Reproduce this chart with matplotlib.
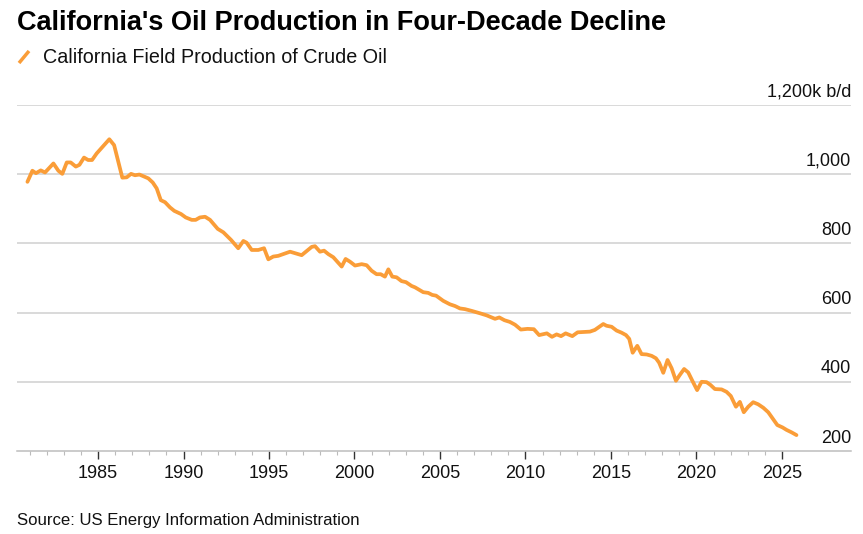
import matplotlib
matplotlib.use("Agg")
import matplotlib.pyplot as plt
from matplotlib.lines import Line2D
from matplotlib.ticker import FixedLocator, NullFormatter

plt.rcParams['font.family'] = ['Liberation Sans', 'DejaVu Sans']

title = "California's Oil Production in Four-Decade Decline"
series_name = "California Field Production of Crude Oil"
source = "Source: US Energy Information Administration"

years = [
    1980.87, 1981.16, 1981.37, 1981.65, 1981.90, 1982.39, 1982.68, 1982.91,
    1983.17, 1983.40, 1983.70, 1983.91, 1984.18, 1984.42, 1984.65, 1984.92,
    1985.66, 1985.94, 1986.42, 1986.68, 1986.93, 1987.16, 1987.42, 1987.65,
    1987.94, 1988.20, 1988.43, 1988.67, 1988.92, 1989.21, 1989.46, 1989.85,
    1990.13, 1990.48, 1990.71, 1990.96, 1991.26, 1991.55, 1992.00, 1992.33,
    1992.78, 1993.20, 1993.50, 1993.69, 1993.99, 1994.37, 1994.71, 1994.96,
    1995.25, 1995.54, 1996.23, 1996.91, 1997.50, 1997.69, 1997.98, 1998.22,
    1998.47, 1998.76, 1999.00, 1999.25, 1999.48, 1999.74, 2000.03, 2000.42,
    2000.71, 2001.00, 2001.29, 2001.53, 2001.78, 2001.98, 2002.21, 2002.46,
    2002.75, 2003.01, 2003.34, 2003.54, 2004.02, 2004.31, 2004.55, 2004.77,
    2005.19, 2005.58, 2005.88, 2006.17, 2006.46, 2006.85, 2007.34, 2007.73,
    2008.22, 2008.47, 2008.77, 2009.09, 2009.39, 2009.73, 2010.12, 2010.49,
    2010.80, 2011.25, 2011.55, 2011.82, 2012.08, 2012.35, 2012.74, 2013.05,
    2013.77, 2014.06, 2014.55, 2014.74, 2015.04, 2015.33, 2015.62, 2015.88,
    2016.07, 2016.27, 2016.54, 2016.79, 2017.09, 2017.38, 2017.63, 2017.82,
    2018.06, 2018.31, 2018.55, 2018.80, 2019.03, 2019.28, 2019.52, 2019.77,
    2020.04, 2020.30, 2020.59, 2020.82, 2021.08, 2021.47, 2021.76, 2022.01,
    2022.31, 2022.54, 2022.77, 2023.03, 2023.32, 2023.61, 2023.91, 2024.20,
    2024.49, 2024.73, 2025.04, 2025.27, 2025.56, 2025.85,
]
production = [
    978, 1010, 1003, 1011, 1005, 1031, 1010, 1001,
    1034, 1034, 1022, 1027, 1048, 1041, 1041, 1060,
    1101, 1084, 990, 991, 1001, 997, 999, 994,
    988, 976, 959, 925, 919, 904, 894, 885,
    875, 868, 868, 875, 877, 868, 842, 832,
    810, 786, 807, 802, 781, 781, 786, 754,
    762, 764, 776, 766, 790, 792, 776, 779,
    769, 760, 747, 733, 755, 747, 736, 740,
    737, 721, 711, 711, 704, 725, 704, 702,
    691, 688, 677, 673, 659, 657, 651, 649,
    634, 624, 619, 612, 610, 605, 598, 592,
    582, 586, 578, 573, 565, 551, 553, 552,
    535, 540, 530, 537, 532, 540, 532, 543,
    545, 550, 567, 562, 559, 548, 542, 535,
    524, 484, 504, 480, 479, 475, 468, 455,
    426, 463, 439, 403, 420, 437, 427, 402,
    376, 400, 399, 391, 379, 378, 371, 359,
    328, 342, 312, 328, 341, 335, 325, 312,
    292, 275, 268, 261, 254, 246,
]

y_ticks = [200, 400, 600, 800, 1000, 1200]
y_labels = ["200", "400", "600", "800", "1,000", "1,200k b/d"]
x_major = [1985, 1990, 1995, 2000, 2005, 2010, 2015, 2020, 2025]
x_minor = list(range(1981, 2025))

line_color = "#FA9D38"

fig = plt.figure(figsize=(8.63, 5.34), dpi=100)
ax = fig.add_axes([17/863, 1 - 451/534, (851-17)/863, (451-105)/534])

ax.plot(years, production, color=line_color, lw=2.7, solid_joinstyle='round',
        solid_capstyle='round', zorder=3)

ax.set_xlim(1980.26, 2029.04)
ax.set_ylim(200, 1200)

for s in ['top', 'right', 'left']:
    ax.spines[s].set_visible(False)
ax.spines['bottom'].set_color('#bdbdbd')
ax.spines['bottom'].set_linewidth(1.1)

for v in y_ticks[1:]:
    ax.axhline(v, color='#cfcfcf', lw=1.1, zorder=1)
ax.set_yticks([])

for v, lab in zip(y_ticks, y_labels):
    ax.annotate(lab, xy=(1.0, v), xycoords=('axes fraction', 'data'),
                xytext=(0, 6), textcoords='offset points',
                ha='right', va='baseline', fontsize=13, color='#111111',
                annotation_clip=False)

ax.xaxis.set_major_locator(FixedLocator(x_major))
ax.xaxis.set_minor_locator(FixedLocator(x_minor))
ax.xaxis.set_minor_formatter(NullFormatter())
ax.set_xticklabels([str(x) for x in x_major])
ax.tick_params(axis='x', which='major', length=6, width=1.0, color='#333333',
               labelsize=13, pad=4, labelcolor='#111111')
ax.tick_params(axis='x', which='minor', length=3, width=0.8, color='#bbbbbb')

fig.text(17/863, 1 - 30/534, title, fontsize=19.5, fontweight='bold',
         ha='left', va='baseline', color='#000000')
fig.add_artist(Line2D([19/863, 29/863], [1 - 63/534, 1 - 51/534],
                      color=line_color, lw=2.5, solid_capstyle='butt'))
fig.text(43/863, 1 - 63/534, series_name, fontsize=14.25,
         ha='left', va='baseline', color='#111111')
fig.text(17/863, 1 - 525/534, source, fontsize=12.05,
         ha='left', va='baseline', color='#111111')

fig.savefig("out.png", dpi=100)
